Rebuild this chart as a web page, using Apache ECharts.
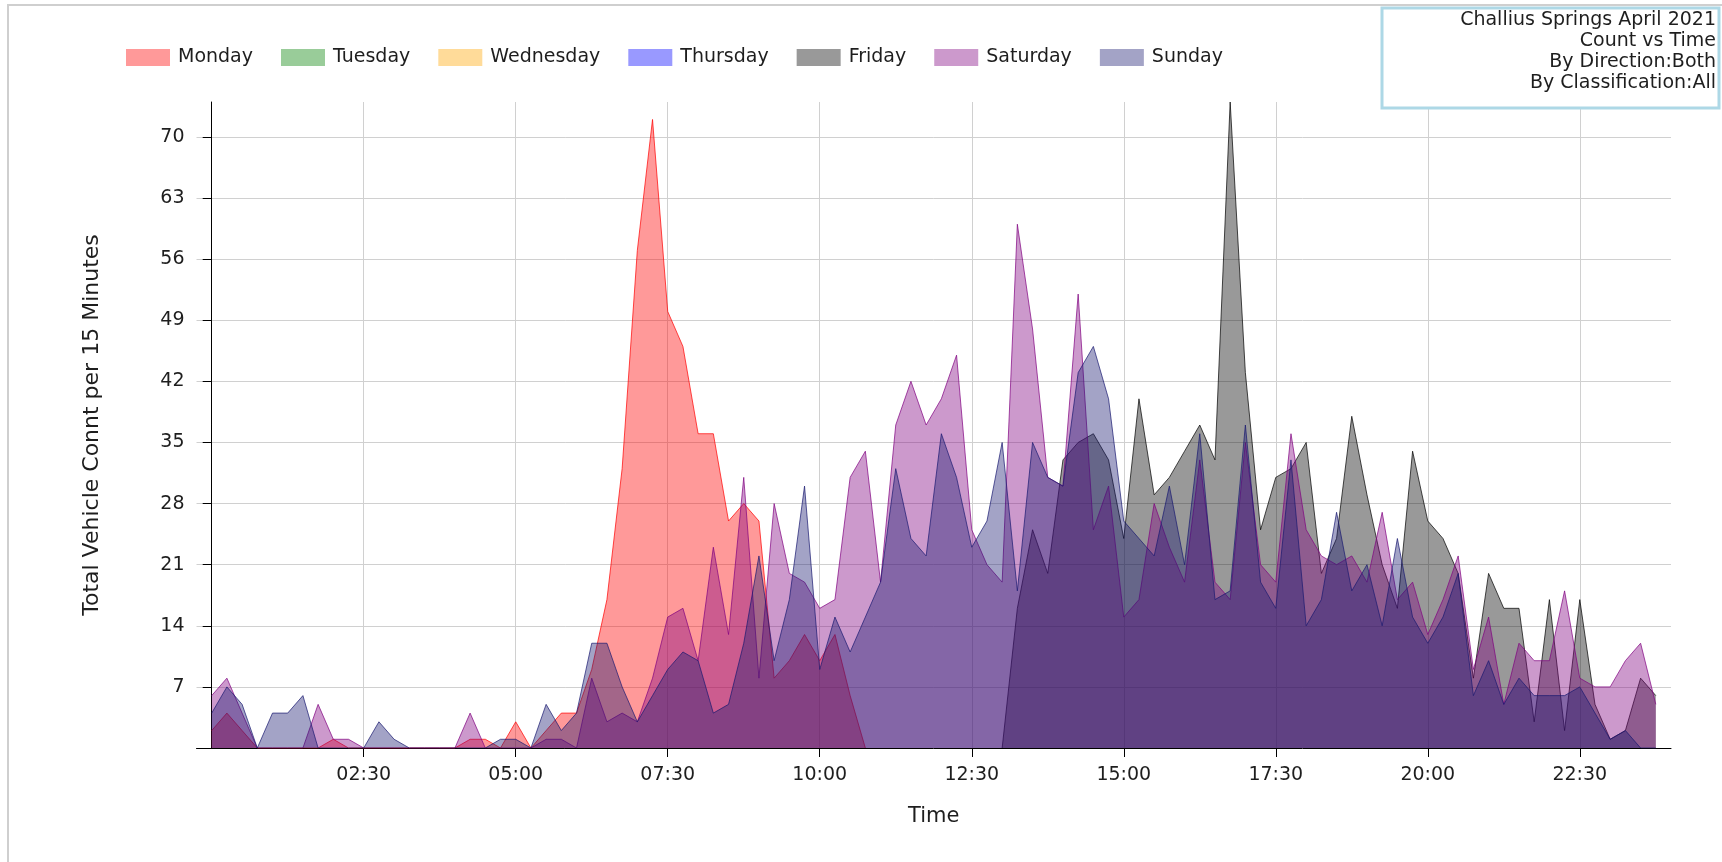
<!DOCTYPE html>
<html><head><meta charset="utf-8">
<script src="https://cdn.jsdelivr.net/npm/echarts@6/dist/echarts.min.js"></script>
<style>html,body{margin:0;padding:0;background:#fff}#c{width:1722px;height:862px}</style>
</head><body><div id="c"></div>
<script>
// ---- data (15-minute slots, index 0 = 00:00 ... 95 = 23:45) ----
const days = ['Monday','Tuesday','Wednesday','Thursday','Friday','Saturday','Sunday'];
const baseColors = ['#ff0000','#008000','#ffa500','#0000ff','#000000','#800080','#191970'];
const legendColors = ['#ff9999','#99cc99','#ffdb99','#9999ff','#999999','#cc99cc','#a3a3c6'];
const tickLabels = ['02:30','05:00','07:30','10:00','12:30','15:00','17:30','20:00','22:30'];
const yTicks = [7,14,21,28,35,42,49,56,63,70];
const titleLines = ['Challius Springs April 2021','Count vs Time','By Direction:Both','By Classification:All'];

const monday = [2,4,2,0,0,0,0,0,1,0, 0,0,0,0,0,0,0,1,1,0, 3,0,2,4,4,9,17,32,57,72,
  50,46,36,36,26,28,26,8,10,13, 10,13,6,0];
const tuesday = [];
const wednesday = [];
const thursday = [];
const friday = [null,null,null,null,null,null,null,null,null,null, null,null,null,null,null,null,null,null,null,null,
  null,null,null,null,null,null,null,null,null,null, null,null,null,null,null,null,null,null,null,null,
  null,null,null,null,null,null,null,null,null,null, null,null,
  0,16,25,20,33,35,36,33,
  24,40,29,31,34,37,33,74,43,25,
  31,32,35,20,24,38,29,21,16,34,
  26,24,20,8,20,16,16,3,17,2,
  17,5,1,2,8,6];
const saturday = [6,8,4,0,0,0,0,5,1,1, 0,0,0,0,0,0,0,4,0,0, 0,0,1,1,0,8,3,4,3,8,
  15,16,10,23,13,31,8,28,20,19, 16,17,31,34,19,37,42,37,40,45,
  25,21,19,60,48,31,30,52,25,30, 15,17,28,23,19,33,19,17,35,21,
  19,36,25,22,21,22,19,27,17,19, 13,17,22,9,15,5,12,10,10,18,
  8,7,7,10,12,5];
const sunday = [4,7,5,0,4,4,6,0,0,0, 0,3,1,0,0,0,0,0,0,1, 1,0,5,2,4,12,12,7,3,6,
  9,11,10,4,5,12,22,10,17,30, 9,15,11,15,19,32,24,22,36,31,
  23,26,35,18,35,31,30,43,46,40, 26,24,22,30,21,36,17,18,37,19,
  16,33,14,17,27,18,21,14,24,15, 12,15,20,6,10,5,8,6,6,6,
  7,4,1,2,0,0];
const allValues = [monday,tuesday,wednesday,thursday,friday,saturday,sunday];

const FONT = '"DejaVu Sans", "Liberation Sans", Arial, sans-serif';
const toMin = s => { const p = s.split(':'); return (+p[0])*60 + (+p[1]); };
const tickMinutes = tickLabels.map(toMin);

const series = days.map((d, k) => ({
  name: d,
  type: 'line',
  symbol: 'none',
  data: allValues[k].map((v, i) => [i*15, v]),
  itemStyle: {color: baseColors[k]},
  lineStyle: {width: 1, color: baseColors[k], opacity: 0.7},
  areaStyle: {color: baseColors[k], opacity: 0.4},
  emphasis: {disabled: true},
  z: 2 + k
}));

const chart = echarts.init(document.getElementById('c'), null, {renderer: 'canvas'});
chart.setOption({
  animation: false,
  backgroundColor: '#ffffff',
  textStyle: {fontFamily: FONT},
  grid: {left: 196.5, right: 51, top: 102, bottom: 114, containLabel: false, outerBoundsMode: 'none'},
  legend: {
    left: 121, top: 43,
    icon: 'rect', itemWidth: 44, itemHeight: 17, itemGap: 28,
    data: days.map((d, k) => ({name: d, itemStyle: {color: legendColors[k], borderWidth: 0}})),
    textStyle: {fontFamily: FONT, fontSize: 19, color: '#1e1e1e', padding: [0, 0, 0, 3]},
    selectedMode: false
  },
  xAxis: {
    type: 'value', min: -15, max: 1440,
    axisLine: {show: true, lineStyle: {color: '#000', width: 1}},
    axisTick: {show: true, customValues: tickMinutes, length: 9, lineStyle: {color: '#000'}},
    axisLabel: {customValues: tickMinutes, margin: 18, fontSize: 19, color: '#1e1e1e', fontFamily: FONT,
      formatter: v => { const j = tickMinutes.indexOf(v); return j >= 0 ? tickLabels[j] : ''; }},
    splitLine: {show: true, lineStyle: {color: '#d0d0d0', width: 1}},
    name: 'Time', nameLocation: 'middle', nameGap: 58,
    nameTextStyle: {fontSize: 21, color: '#1e1e1e', fontFamily: FONT}
  },
  yAxis: {
    type: 'value', min: 0, max: 74,
    axisLine: {show: true, lineStyle: {color: '#000', width: 1}},
    axisTick: {show: true, customValues: yTicks, length: 9, lineStyle: {color: '#000'}},
    axisLabel: {customValues: yTicks, margin: 12, fontSize: 19, color: '#1e1e1e', fontFamily: FONT},
    splitLine: {show: true, lineStyle: {color: '#d0d0d0', width: 1}},
    name: 'Total Vehicle Connt per 15 Minutes', nameLocation: 'middle', nameGap: 93,
    nameTextStyle: {fontSize: 22, color: '#1e1e1e', fontFamily: FONT}
  },
  graphic: [
    {type: 'rect', silent: true, z: -10, shape: {x: 8, y: 5, width: 1800, height: 1000},
      style: {fill: 'none', stroke: '#cfcfcf', lineWidth: 2}},
    {type: 'rect', silent: true, z: 50, shape: {x: 1382, y: 8, width: 337, height: 100},
      style: {fill: '#ffffff', stroke: '#add8e6', lineWidth: 3}},
    {type: 'text', silent: true, z: 51,
      style: {text: titleLines.join('\n'), x: 1716, y: 10, align: 'right', verticalAlign: 'top',
        font: '19px ' + FONT, fill: '#1e1e1e', lineHeight: 21}}
  ],
  series: series
});
</script></body></html>
